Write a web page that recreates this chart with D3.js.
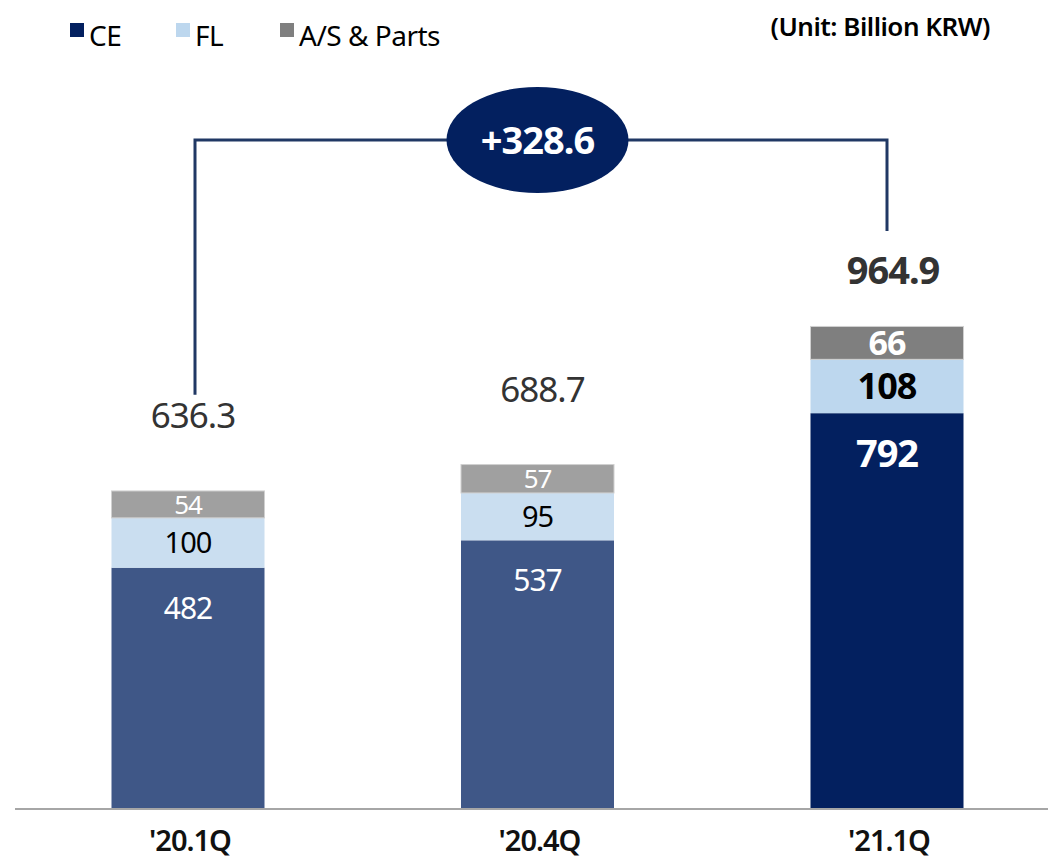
<!DOCTYPE html>
<html>
<head>
<meta charset="utf-8">
<script src="https://cdn.jsdelivr.net/npm/d3@7"></script>
<style>
  body { margin: 0; background: #fff; }
  text { font-family: "Noto Sans", sans-serif; }
</style>
</head>
<body>
<svg width="1048" height="861"></svg>
<script>
var quarters = ["'20.1Q", "'20.4Q", "'21.1Q"];
var ceValues = [482, 537, 792];
var flValues = [100, 95, 108];
var asValues = [54, 57, 66];
var totals = [636.3, 688.7, 964.9];
var seriesNames = ["CE", "FL", "A/S & Parts"];

var svg = d3.select("svg");

var baseY = 808;
var x = d3.scalePoint().domain(quarters).range([188, 887]);
var barW = 153;
var y = d3.scaleLinear().domain([0, 1000]).range([baseY, baseY - 498.5]);

// old quarters are muted, latest one is full colour
var colors = {
  old: ["#3f5787", "#cadef0", "#a0a0a0"],
  last: ["#03205f", "#bdd7ee", "#7f7f7f"]
};

var rows = quarters.map(function(q, i) {
  return { q: q, CE: ceValues[i], FL: flValues[i], AS: asValues[i] };
});
var stack = d3.stack().keys(["CE", "FL", "AS"])(rows);

// axis line
svg.append("line")
    .attr("x1", 15).attr("x2", 1048)
    .attr("y1", baseY + 1).attr("y2", baseY + 1)
    .attr("stroke", "#a6a6a6")
    .attr("stroke-width", 2);

var layer = svg.selectAll("g.layer")
  .data(stack)
  .enter().append("g")
    .attr("class", "layer");

layer.selectAll("rect")
  .data(function(d, k) { return d.map(function(p, i) { return { p: p, k: k, i: i }; }); })
  .enter().append("rect")
    .attr("x", function(d) { return x(quarters[d.i]) - barW / 2; })
    .attr("y", function(d) { return y(d.p[1]); })
    .attr("width", barW)
    .attr("height", function(d) { return y(d.p[0]) - y(d.p[1]); })
    .attr("fill", function(d) { return (d.i == 2 ? colors.last : colors.old)[d.k]; })
    .attr("stroke", function(d) { return d.k == 2 ? "#d0d0d0" : "none"; })
    .attr("stroke-width", 1);

// segment labels; CE label sits near the top of its segment
var labelColor = ["#fff", "#000", "#fff"];
var labelSize = [30, 29, 26];
var bigSize = [38, 36, 34];
layer.selectAll("text")
  .data(function(d, k) { return d.map(function(p, i) { return { p: p, k: k, i: i }; }); })
  .enter().append("text")
    .attr("x", function(d) { return x(quarters[d.i]); })
    .attr("y", function(d) {
      if (d.k == 0) return y(d.p[1]) + 40;
      return (y(d.p[0]) + y(d.p[1])) / 2;
    })
    .attr("dy", "0.36em")
    .attr("text-anchor", "middle")
    .attr("fill", function(d) { return labelColor[d.k]; })
    .style("font-size", function(d) { return (d.i == 2 ? bigSize[d.k] : labelSize[d.k]) + "px"; })
    .style("font-weight", function(d) { return d.i == 2 ? "bold" : "normal"; })
    .style("letter-spacing", "-1px")
    .text(function(d) { return d.p[1] - d.p[0]; });

// totals
svg.selectAll("text.total")
  .data(totals)
  .enter().append("text")
    .attr("class", "total")
    .attr("x", function(d, i) { return x(quarters[i]) + (i == 2 ? 6 : 5); })
    .attr("y", function(d, i) { return y(ceValues[i] + flValues[i] + asValues[i]) - (i == 2 ? 42 : 63); })
    .attr("text-anchor", "middle")
    .attr("fill", "#333")
    .style("font-size", function(d, i) { return i == 2 ? "38px" : "35px"; })
    .style("font-weight", function(d, i) { return i == 2 ? "bold" : "normal"; })
    .style("letter-spacing", "-1px")
    .text(function(d) { return d.toFixed(1); });

// bracket showing growth
var bracketY = 140;
var x0 = x(quarters[0]) + 7, x1 = x(quarters[2]);
svg.append("path")
    .attr("d", "M" + x0 + "," + (y(totals[0]) - 96) + "V" + bracketY + "H" + x1 + "V" + (y(totals[2]) - 96))
    .attr("fill", "none")
    .attr("stroke", "#203864")
    .attr("stroke-width", 3);

var cx = x(quarters[1]);
svg.append("ellipse")
    .attr("cx", cx).attr("cy", bracketY)
    .attr("rx", 91).attr("ry", 53)
    .attr("fill", "#03205f");
svg.append("text")
    .attr("x", cx).attr("y", bracketY)
    .attr("dy", "0.36em")
    .attr("text-anchor", "middle")
    .attr("fill", "#fff")
    .style("font-size", "38px")
    .style("font-weight", "bold")
    .style("letter-spacing", "-1px")
    .text("+" + (totals[2] - totals[0]).toFixed(1));

// x labels
svg.selectAll("text.tick")
  .data(quarters)
  .enter().append("text")
    .attr("class", "tick")
    .attr("x", function(d) { return x(d) + 2; })
    .attr("y", 851)
    .attr("text-anchor", "middle")
    .attr("fill", "#111")
    .style("font-size", "29px")
    .style("font-weight", "600")
    .style("letter-spacing", "-1px")
    .text(function(d) { return d; });

// legend
var legendX = [70, 176, 280];
var legend = svg.selectAll("g.legend")
  .data(seriesNames)
  .enter().append("g")
    .attr("class", "legend")
    .attr("transform", function(d, i) { return "translate(" + legendX[i] + ",23)"; });
legend.append("rect")
    .attr("width", 14).attr("height", 14)
    .attr("fill", function(d, i) { return colors.last[i]; });
legend.append("text")
    .attr("x", 19).attr("y", 23)
    .attr("fill", "#000")
    .style("font-size", "28px")
    .style("letter-spacing", "-0.5px")
    .text(function(d) { return d; });

svg.append("text")
    .attr("x", 990).attr("y", 36)
    .attr("text-anchor", "end")
    .attr("fill", "#000")
    .style("font-size", "26px")
    .style("font-weight", "600")
    .style("letter-spacing", "-0.5px")
    .text("(Unit: Billion KRW)");
</script>
</body>
</html>
